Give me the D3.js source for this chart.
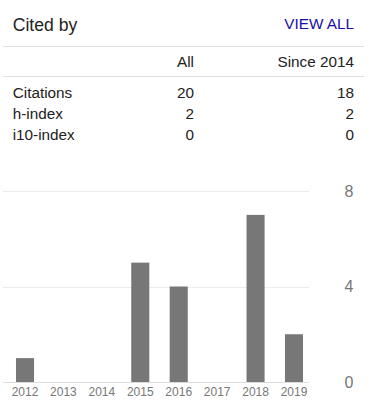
<!DOCTYPE html>
<html>
<head>
<meta charset="utf-8">
<script src="https://cdn.jsdelivr.net/npm/d3@7"></script>
<style>
  html, body { margin: 0; padding: 0; background: #fff; }
  svg { display: block; font-family: "Liberation Sans", Arial, sans-serif; }
</style>
</head>
<body>
<svg id="chart" width="378" height="416"></svg>
<script>
// ---- data ----
const title = "Cited by";
const linkText = "VIEW ALL";
const tableCols = ["All", "Since 2014"];
const tableRows = ["Citations", "h-index", "i10-index"];
const allValues = [20, 2, 0];
const sinceValues = [18, 2, 0];
const years = ["2012", "2013", "2014", "2015", "2016", "2017", "2018", "2019"];
const citations = [1, 0, 0, 5, 4, 0, 7, 2];
const yTicks = [0, 4, 8];

const svg = d3.select("#chart");
const textColor = "#222";

// ---- header ----
svg.append("text").attr("x", 12.7).attr("y", 30.5)
  .attr("font-size", "17.6px").attr("fill", textColor).text(title);
svg.append("text").attr("x", 354).attr("y", 28.5).attr("text-anchor", "end")
  .attr("font-size", "15.3px").attr("fill", "#1a0dab").text(linkText);

[46.5, 76.5].forEach(y => {
  svg.append("line").attr("x1", 3).attr("x2", 364).attr("y1", y).attr("y2", y)
    .attr("stroke", "#e0e0e0").attr("stroke-width", 1);
});

// ---- table ----
const colX = [194, 354];
svg.selectAll("text.colhead").data(tableCols).join("text")
  .attr("class", "colhead")
  .attr("x", (d, i) => colX[i]).attr("y", 67)
  .attr("text-anchor", "end").attr("font-size", "15.3px").attr("fill", textColor)
  .text(d => d);

const rowY = d3.scalePoint().domain(tableRows).range([97.5, 140]);
svg.selectAll("text.rowlabel").data(tableRows).join("text")
  .attr("class", "rowlabel")
  .attr("x", 12.7).attr("y", d => rowY(d))
  .attr("font-size", "15.3px").attr("fill", textColor).text(d => d);
svg.selectAll("text.allv").data(allValues).join("text")
  .attr("class", "allv")
  .attr("x", colX[0]).attr("y", (d, i) => rowY(tableRows[i]))
  .attr("text-anchor", "end").attr("font-size", "15.3px").attr("fill", textColor).text(d => d);
svg.selectAll("text.sincev").data(sinceValues).join("text")
  .attr("class", "sincev")
  .attr("x", colX[1]).attr("y", (d, i) => rowY(tableRows[i]))
  .attr("text-anchor", "end").attr("font-size", "15.3px").attr("fill", textColor).text(d => d);

// ---- bar chart ----
const x = d3.scaleBand().domain(years).range([5.8, 313.2])
  .paddingInner(0.53).paddingOuter(0.265);
const y = d3.scaleLinear().domain([0, 8]).range([382, 191]);

// gridlines
svg.append("g").selectAll("line").data(yTicks).join("line")
  .attr("x1", 3).attr("x2", 309)
  .attr("y1", d => Math.round(y(d)) + 0.5).attr("y2", d => Math.round(y(d)) + 0.5)
  .attr("stroke", d => d === 0 ? "#dcdcdc" : "#ebebeb").attr("stroke-width", 1);

// bars
svg.append("g").selectAll("rect").data(citations).join("rect")
  .attr("x", (d, i) => x(years[i]))
  .attr("width", x.bandwidth())
  .attr("y", d => y(d))
  .attr("height", d => y(0) - y(d))
  .attr("fill", "#777");

// x axis
const xAxis = svg.append("g").attr("transform", `translate(0,${y(0)})`)
  .call(d3.axisBottom(x).tickSize(0).tickPadding(5));
xAxis.select(".domain").remove();
xAxis.selectAll("text").attr("font-size", "12px").attr("fill", "#777")
  .attr("font-family", "\"Liberation Sans\", Arial, sans-serif");

// y axis labels on the right
const yAxis = svg.append("g").attr("transform", "translate(349,0)")
  .call(d3.axisRight(y).tickValues(yTicks).tickSize(0).tickPadding(0));
yAxis.select(".domain").remove();
yAxis.selectAll("text").attr("font-size", "16px").attr("fill", "#777")
  .attr("text-anchor", "middle")
  .attr("font-family", "\"Liberation Sans\", Arial, sans-serif");
</script>
</body>
</html>
